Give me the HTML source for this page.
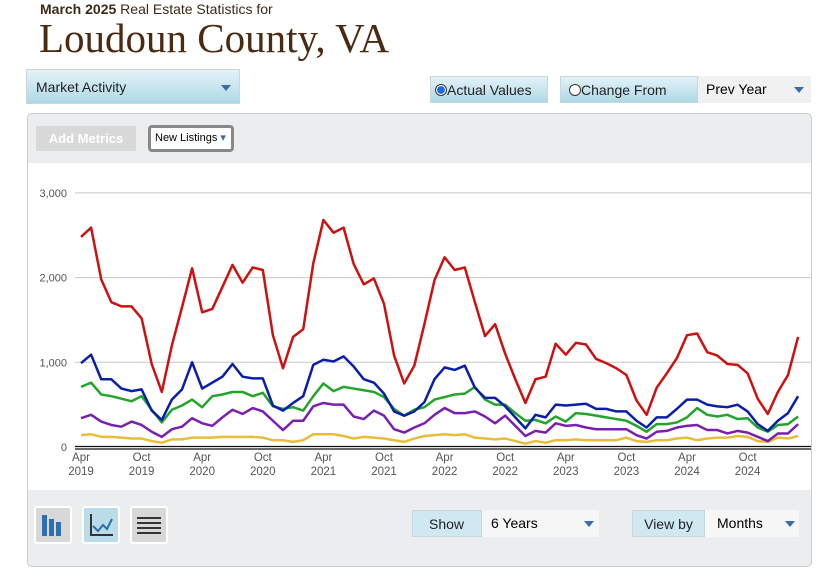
<!DOCTYPE html>
<html><head><meta charset="utf-8"><style>
body{margin:0;width:825px;height:573px;background:#fff;font-family:"Liberation Sans",sans-serif;position:relative;overflow:hidden}
.abs{position:absolute;white-space:nowrap}
.btn{background:linear-gradient(#e4f3f8,#aed8e6);border:1px solid #c9d6db;box-sizing:border-box;color:#222;font-size:14px}
.tri{width:0;height:0;border-left:5px solid transparent;border-right:5px solid transparent;border-top:6px solid #3a6ea5;position:absolute}
</style></head><body>
<div class="abs" style="left:40px;top:1px;font-size:14px;color:#3d2a16"><b>March 2025</b> Real Estate Statistics for</div>
<div class="abs" style="left:39px;top:14px;font-family:'Liberation Serif',serif;font-size:41px;color:#4a2a10">Loudoun County, VA</div>
<div class="abs btn" style="left:26px;top:69px;width:214px;height:35px;padding:9px 9px">Market Activity<div class="tri" style="left:194px;top:15px"></div></div>
<div class="abs btn" style="left:430px;top:76px;width:118px;height:27px;padding:5px 4px"><span style="display:inline-block;width:10px;height:10px;border-radius:50%;border:1px solid #333;background:radial-gradient(#1a6be0 50%,#fff 60%);vertical-align:-1px"></span>Actual Values</div>
<div class="abs btn" style="left:560px;top:76px;width:138px;height:27px;padding:5px 8px"><span style="display:inline-block;width:10px;height:10px;border-radius:50%;border:1px solid #333;background:#fff;vertical-align:-1px"></span>Change From</div>
<div class="abs" style="left:698px;top:76px;width:113px;height:27px;background:#f1f1f1;font-size:14px;padding:5px 8px;box-sizing:border-box">Prev Year<div class="tri" style="left:96px;top:11px"></div></div>
<div class="abs" style="left:27px;top:113px;width:785px;height:454px;background:#ebedef;border:1px solid #ccc;border-radius:5px;box-sizing:border-box"></div>
<div class="abs" style="left:36px;top:126px;width:100px;height:25px;background:#d8d8d8;color:#fff;font-size:13px;font-weight:bold;text-align:center;line-height:25px">Add Metrics</div>
<div class="abs" style="left:148px;top:125px;width:86px;height:27px;background:#fff;border:3px solid #888;border-radius:4px;box-sizing:border-box;font-size:11px;line-height:21px;padding-left:4px">New Listings <span style="color:#3a6ea5">▾</span></div>
<div class="abs" style="left:28px;top:163px;width:783px;height:327px;background:#fff"></div>
<svg class="abs" style="left:0;top:0" width="825" height="573">
<g id="grid"></g><g id="lines"></g><g id="labels"></g>
</svg>
<div class="abs" style="left:34px;top:506px;width:38px;height:38px;background:#d8d8d8;border:2px solid #fff;border-radius:3px;box-sizing:border-box">
<div class="abs" style="left:6px;top:7px;width:5px;height:21px;background:#2e6fae"></div><div class="abs" style="left:13px;top:11px;width:5px;height:17px;background:#2e6fae"></div><div class="abs" style="left:20px;top:14px;width:5px;height:14px;background:#2e6fae"></div></div>
<div class="abs" style="left:82px;top:506px;width:38px;height:38px;background:#b9dce8;border:2px solid #fff;border-radius:3px;box-sizing:border-box">
<svg width="34" height="34"><path d="M7 6V27H29" stroke="#333" stroke-width="2" fill="none"/><path d="M9 18L14 23L19 17L23 21L28 11" stroke="#2e6fae" stroke-width="2" fill="none"/></svg></div>
<div class="abs" style="left:130px;top:506px;width:38px;height:38px;background:#d8d8d8;border:2px solid #fff;border-radius:3px;box-sizing:border-box">
<svg width="34" height="34"><path d="M5 10H29M5 15H29M5 20H29M5 25H29" stroke="#333" stroke-width="2"/></svg></div>
<div class="abs btn" style="left:412px;top:510px;width:70px;height:27px;padding:5px 16px;background:#cfe8f1">Show</div>
<div class="abs" style="left:482px;top:510px;width:117px;height:27px;background:#f6f6f6;font-size:14px;padding:5px 9px;box-sizing:border-box">6 Years<div class="tri" style="left:102px;top:11px"></div></div>
<div class="abs btn" style="left:632px;top:510px;width:73px;height:27px;padding:5px 0;text-align:center;background:#cfe8f1">View by</div>
<div class="abs" style="left:705px;top:510px;width:94px;height:27px;background:#f6f6f6;font-size:14px;padding:5px 12px;box-sizing:border-box">Months<div class="tri" style="left:80px;top:11px"></div></div>
<script>
const red=[2480,2590,1980,1710,1660,1660,1520,980,650,1200,1650,2110,1590,1630,1890,2150,1940,2120,2090,1320,930,1300,1390,2170,2680,2530,2590,2160,1920,1990,1690,1080,750,960,1450,1970,2240,2090,2120,1710,1310,1450,1100,800,520,800,830,1220,1090,1230,1210,1040,990,930,850,550,380,700,870,1050,1320,1340,1120,1080,980,970,870,570,390,650,850,1300];
const blue=[990,1090,800,800,690,660,680,430,320,560,680,1000,690,760,830,980,830,810,810,490,430,520,600,970,1030,1010,1070,950,800,760,630,420,370,420,530,800,940,910,960,700,580,580,480,350,220,380,350,500,490,500,510,450,450,420,420,310,230,350,350,450,560,560,500,480,470,500,420,270,190,310,400,600];
const green=[710,760,620,600,570,540,600,440,290,440,490,560,470,600,620,650,650,600,640,480,450,470,430,600,750,660,710,690,670,650,590,450,370,440,470,560,590,620,630,710,560,500,500,400,310,320,280,360,300,400,390,370,350,330,310,250,180,270,270,290,350,460,380,360,380,330,340,230,180,260,270,360];
const purple=[340,380,300,260,240,300,260,180,120,210,240,340,280,250,350,440,390,460,420,310,200,310,310,480,520,500,500,360,330,430,370,210,170,230,280,380,460,400,400,420,360,280,370,250,130,190,170,280,250,260,230,210,210,210,210,140,100,180,190,230,250,260,200,200,160,190,170,120,70,160,160,270];
const yellow=[140,150,120,120,110,100,100,70,50,90,90,110,110,110,120,120,120,120,110,80,80,60,80,150,150,150,130,100,120,110,100,80,60,100,130,140,150,140,150,110,100,90,100,70,40,70,50,80,80,90,80,80,80,80,110,70,60,80,80,100,110,80,100,110,110,130,120,70,60,110,100,130];
const yTicks=[0,1000,2000,3000];
const yTickLabels=["0","1,000","2,000","3,000"];
const xLabels=[["Apr","2019"],["Oct","2019"],["Apr","2020"],["Oct","2020"],["Apr","2021"],["Oct","2021"],["Apr","2022"],["Oct","2022"],["Apr","2023"],["Oct","2023"],["Apr","2024"],["Oct","2024"]];
const NS="http://www.w3.org/2000/svg";
const X=i=>81+i*10.1, Y=v=>447-v*0.0847;
const grid=document.getElementById('grid'),lines=document.getElementById('lines'),labels=document.getElementById('labels');
function mk(tag,attrs,parent){const e=document.createElementNS(NS,tag);for(const k in attrs)e.setAttribute(k,attrs[k]);parent.appendChild(e);return e;}
yTicks.forEach((v,i)=>{
  if(v>0){const l=mk('line',{x1:75,x2:811,y1:Y(v),y2:Y(v),stroke:'#c8c8c8','stroke-width':1},grid);
  
  }
  const t=mk('text',{x:67,y:Y(v)+4,'text-anchor':'end','font-size':11,fill:'#555','font-family':'Liberation Sans,sans-serif'},labels);
  t.textContent=yTickLabels[i];
  
  
});
const ax=mk('line',{x1:75,x2:811,y1:446.5,y2:446.5,stroke:'#111','stroke-width':1.2},grid);


const ax2=mk('line',{x1:75,x2:811,y1:449,y2:449,stroke:'#111','stroke-width':1.2},grid);


xLabels.forEach((l,i)=>{
  const t=mk('text',{x:X(i*6),y:461,'text-anchor':'middle','font-size':11.5,fill:'#555','font-family':'Liberation Sans,sans-serif'},labels);
  t.textContent=l[0];
  
  
  const t2=mk('text',{x:X(i*6),y:475,'text-anchor':'middle','font-size':11.5,fill:'#555','font-family':'Liberation Sans,sans-serif'},labels);
  t2.textContent=l[1];
  
  
});
[[yellow,'#e8bd3a','series-yellow'],[purple,'#7a1fb0','series-purple'],[green,'#22a52a','series-green'],[blue,'#0a1fa8','series-blue'],[red,'#cc1111','series-red']].forEach(([d,c,n])=>{
  const p=mk('polyline',{points:d.map((v,i)=>X(i)+','+Y(v)).join(' '),fill:'none',stroke:c,'stroke-width':2.5,'stroke-linejoin':'round'},lines);
  
  
});
</script>
</body></html>
